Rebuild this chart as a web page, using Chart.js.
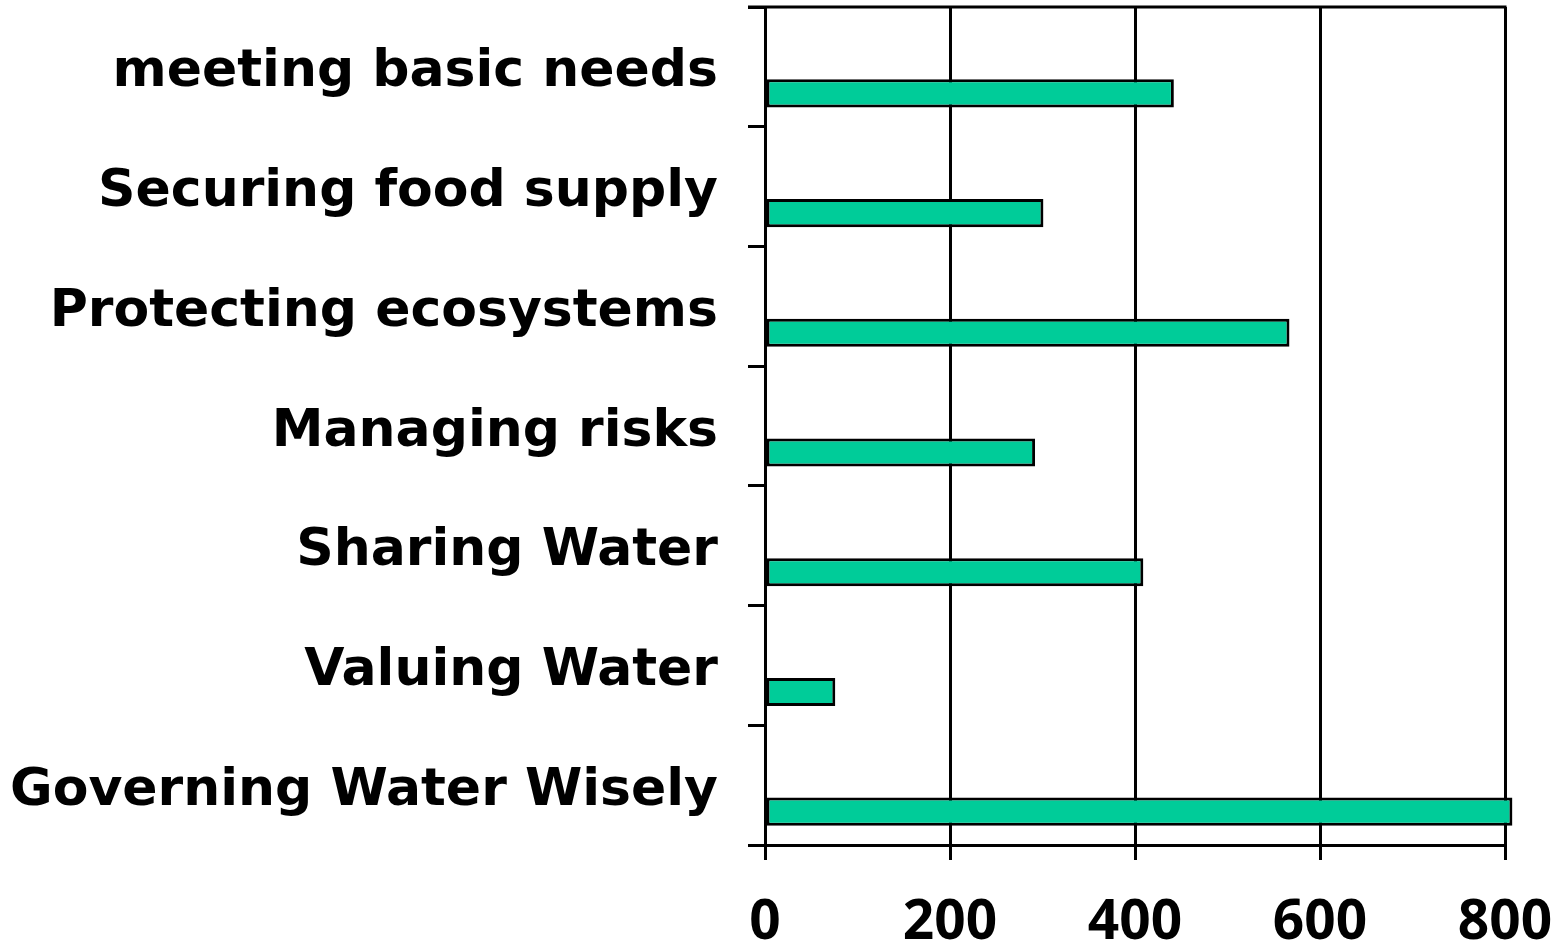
<!DOCTYPE html>
<html>
<head>
<meta charset="utf-8">
<script src="https://cdn.jsdelivr.net/npm/chart.js@4.4.1/dist/chart.umd.min.js"></script>
<style>
  html, body { margin: 0; padding: 0; background: #ffffff; }
  #wrap { width: 1566px; height: 946px; position: relative; }
</style>
</head>
<body>
<div id="wrap"><canvas id="c"></canvas></div>
<script>
const categories = [
  "meeting basic needs",
  "Securing food supply",
  "Protecting ecosystems",
  "Managing risks",
  "Sharing Water",
  "Valuing Water",
  "Governing Water Wisely"
];
const values = [442, 301, 567, 292, 409, 76, 808];
const spacer = [null, null, null, null, null, null, null];
const xTicks = [0, 200, 400, 600, 800];

const topBorder = {
  id: 'topBorder',
  afterDraw(chart) {
    const a = chart.chartArea, ctx = chart.ctx;
    ctx.save();
    ctx.strokeStyle = '#000';
    ctx.lineWidth = 3;
    ctx.beginPath();
    ctx.moveTo(a.left - 17, a.top);
    ctx.lineTo(a.right + 1.5, a.top);
    ctx.stroke();
    ctx.restore();
  }
};

new Chart(document.getElementById('c'), {
  type: 'bar',
  data: {
    labels: categories,
    datasets: [
      { label: 'spacer', data: spacer, backgroundColor: 'rgba(0,0,0,0)' },
      {
        label: 'values',
        data: values,
        backgroundColor: '#00CC99',
        borderColor: '#000000',
        borderWidth: 3,
        borderSkipped: false,
        clip: false
      }
    ]
  },
  options: {
    indexAxis: 'y',
    responsive: true,
    maintainAspectRatio: false,
    animation: false,
    categoryPercentage: 0.886,
    barPercentage: 0.53,
    layout: { padding: { left: 0, right: 61, top: 7, bottom: 0 } },
    plugins: { legend: { display: false }, tooltip: { enabled: false } },
    scales: {
      x: {
        min: 0,
        max: 800,
        afterBuildTicks(scale) { scale.ticks = xTicks.map(v => ({ value: v })); },
        afterFit(scale) { scale.paddingLeft = 0; scale.paddingRight = 0; scale.height = 101; },
        grid: { color: '#000', lineWidth: 3, tickLength: 15, drawTicks: true },
        border: { display: true, color: '#000', width: 3 },
        ticks: {
          color: '#000',
          padding: 30,
          font: { family: 'Noto Sans', size: 55, weight: 'bold' },
          maxRotation: 0
        }
      },
      y: {
        afterFit(scale) { scale.paddingTop = 0; scale.paddingBottom = 0; scale.width = 765; },
        grid: { display: true, drawOnChartArea: false, color: '#000', lineWidth: 3, tickLength: 17, offset: true },
        border: { display: true, color: '#000', width: 3 },
        ticks: {
          color: '#000',
          padding: 30,
          labelOffset: 6,
          font: { family: 'DejaVu Sans', size: 52, weight: 'bold' }
        }
      }
    }
  },
  plugins: [topBorder]
});
</script>
</body>
</html>
